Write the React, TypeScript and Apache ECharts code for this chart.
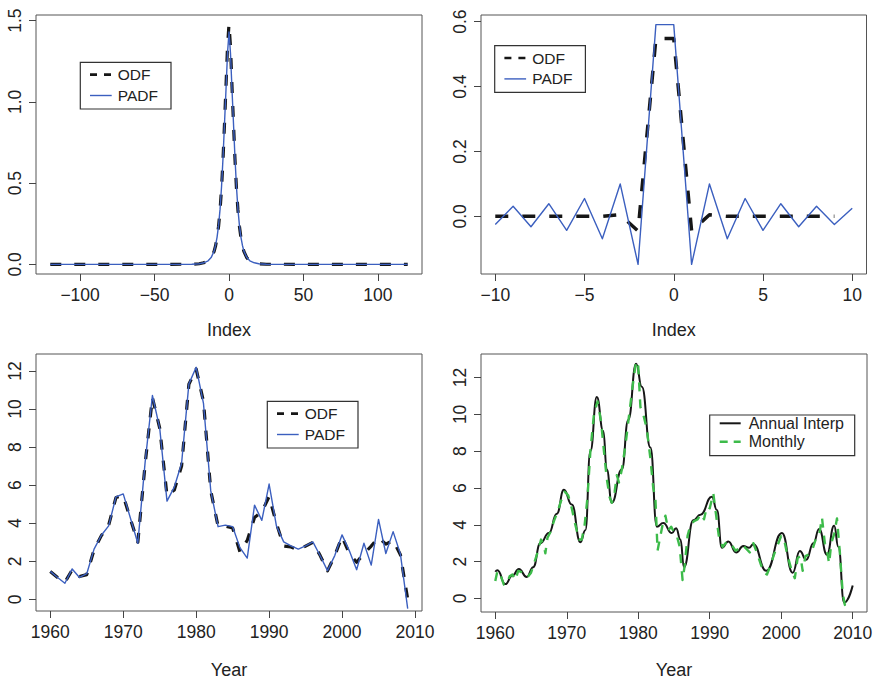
import React, { useEffect, useRef } from "react";
import * as echarts from "echarts";

const FONT = '"Liberation Sans", Arial, Helvetica, sans-serif';

// ---------- Panel 1 (top-left): ODF vs PADF, wide index ----------
const p1Index = [-120, -25, -20, -17, -14, -12, -10, -9, -8, -7, -6, -5, -4, -3, -2, -1, 0, 1, 2, 3, 4, 5, 6, 7, 8, 9, 10, 12, 14, 17, 20, 25, 120];
const p1Odf = [0, 0.001, 0.004, 0.01, 0.022, 0.04, 0.08, 0.115, 0.165, 0.235, 0.335, 0.47, 0.65, 0.87, 1.1, 1.34, 1.48, 1.34, 1.1, 0.87, 0.65, 0.47, 0.335, 0.235, 0.165, 0.115, 0.08, 0.04, 0.022, 0.01, 0.004, 0.001, 0];
const p1Padf = [0, 0.001, 0.004, 0.01, 0.022, 0.042, 0.082, 0.118, 0.168, 0.24, 0.34, 0.48, 0.66, 0.87, 1.08, 1.3, 1.43, 1.3, 1.08, 0.87, 0.66, 0.48, 0.34, 0.24, 0.168, 0.118, 0.082, 0.042, 0.022, 0.01, 0.004, 0.001, 0];
const p1XTicks = [-100, -50, 0, 50, 100];
const p1YTicks = [0, 0.5, 1, 1.5];

// ---------- Panel 2 (top-right): ODF vs PADF, -10..10 ----------
const p2PadfIndex = [-10, -9, -8, -7, -6, -5, -4, -3, -2, -1, 0, 1, 2, 3, 4, 5, 6, 7, 8, 9, 10];
const p2Padf = [-0.025, 0.031, -0.032, 0.039, -0.043, 0.055, -0.069, 0.1, -0.148, 0.591, 0.591, -0.148, 0.1, -0.069, 0.055, -0.043, 0.039, -0.032, 0.031, -0.025, 0.025];
const p2OdfIndex = [-10, -9, -8, -7, -6, -5, -4, -3, -2, -1, 0, 1, 2, 3, 4, 5, 6, 7, 8, 9];
const p2Odf = [0, 0, 0, 0, 0, 0, 0, 0.005, -0.045, 0.548, 0.548, -0.045, 0.005, 0, 0, 0, 0, 0, 0, 0];
const p2XTicks = [-10, -5, 0, 5, 10];
const p2YTicks = [0, 0.2, 0.4, 0.6];

// ---------- Panel 3 (bottom-left): annual ODF vs PADF ----------
const p3Years = [1960, 1961, 1962, 1963, 1964, 1965, 1966, 1967, 1968, 1969, 1970, 1971, 1972, 1973, 1974, 1975, 1976, 1977, 1978, 1979, 1980, 1981, 1982, 1983, 1984, 1985, 1986, 1987, 1988, 1989, 1990, 1991, 1992, 1993, 1994, 1995, 1996, 1997, 1998, 1999, 2000, 2001, 2002, 2003, 2004, 2005, 2006, 2007, 2008, 2009];
const p3Odf = [1.47, 1.15, 0.9, 1.55, 1.2, 1.3, 2.6, 3.35, 3.9, 5.35, 5.45, 4.2, 3.0, 7.1, 10.6, 9.0, 5.45, 5.75, 7.0, 11.3, 12.1, 10.4, 5.7, 3.85, 3.85, 3.75, 2.5, 3.1, 4.3, 4.6, 5.4, 4.0, 2.8, 2.75, 2.6, 2.8, 3.0, 2.3, 1.5, 2.3, 3.3, 2.4, 1.95, 2.4, 2.8, 3.25, 2.9, 3.1, 2.35, 0.0];
const p3Padf = [1.47, 1.15, 0.85, 1.6, 1.15, 1.35, 2.64, 3.37, 3.86, 5.38, 5.54, 4.25, 2.95, 7.2, 10.71, 9.0, 5.16, 5.9, 7.15, 11.32, 12.19, 10.3, 5.7, 3.82, 3.9, 3.82, 2.72, 2.17, 4.95, 4.15, 6.06, 3.86, 3.02, 2.81, 2.64, 2.81, 3.02, 2.29, 1.51, 2.3, 3.39, 2.55, 1.56, 2.95, 1.8, 4.2, 2.41, 3.56, 2.38, -0.49];
const yearTicks = [1960, 1970, 1980, 1990, 2000, 2010];
const p34YTicks = [0, 2, 4, 6, 8, 10, 12];

// ---------- Panel 4 (bottom-right): annual interpolation vs monthly ----------
const p4InterpTime = [1960.0, 1960.3, 1961.4, 1962.4, 1963.3, 1964.4, 1965.3, 1966.3, 1967.5, 1968.6, 1969.6, 1970.7, 1971.9, 1972.6, 1973.3, 1974.2, 1975.1, 1975.6, 1976.3, 1977.7, 1978.6, 1979.7, 1980.5, 1981.7, 1982.6, 1983.5, 1984.7, 1985.3, 1985.9, 1986.4, 1987.7, 1988.7, 1990.3, 1991.0, 1991.7, 1992.6, 1993.7, 1994.7, 1995.5, 1996.1, 1997.9, 2000.1, 2001.6, 2002.6, 2003.5, 2004.5, 2005.3, 2006.4, 2007.4, 2008.0, 2008.8, 2010.0];
const p4Interp = [1.45, 1.53, 0.78, 1.25, 1.6, 1.17, 1.7, 3.0, 3.55, 4.6, 5.9, 5.1, 3.05, 3.7, 8.0, 10.94, 9.1, 7.0, 5.2, 7.0, 9.7, 12.75, 11.5, 8.2, 3.9, 4.1, 3.55, 3.82, 3.2, 1.7, 4.25, 4.55, 5.53, 4.8, 2.75, 3.1, 2.5, 2.85, 2.75, 2.95, 1.5, 3.55, 1.4, 2.58, 2.1, 3.0, 3.77, 2.38, 3.95, 2.8, -0.23, 0.7];
const p4MonthlyTime = [1960.0, 1960.3, 1960.7, 1961.2, 1961.6, 1962.0, 1962.4, 1962.8, 1963.2, 1963.6, 1964.0, 1964.5, 1965.0, 1965.5, 1966.0, 1966.4, 1966.8, 1967.0, 1967.3, 1967.7, 1968.2, 1968.7, 1969.2, 1969.7, 1970.2, 1970.7, 1971.2, 1971.7, 1972.1, 1972.5, 1972.9, 1973.3, 1973.8, 1974.3, 1974.8, 1975.2, 1975.6, 1976.0, 1976.3, 1976.7, 1977.0, 1977.3, 1977.7, 1978.2, 1978.7, 1979.2, 1979.7, 1980.0, 1980.3, 1980.7, 1981.2, 1981.7, 1982.1, 1982.4, 1982.7, 1983.0, 1983.4, 1983.8, 1984.2, 1984.6, 1985.0, 1985.4, 1985.8, 1986.2, 1986.5, 1986.9, 1987.3, 1987.8, 1988.3, 1988.8, 1989.2, 1989.6, 1990.0, 1990.5, 1990.9, 1991.3, 1991.8, 1992.2, 1992.6, 1993.1, 1993.6, 1994.1, 1994.6, 1995.1, 1995.6, 1996.1, 1996.6, 1997.1, 1997.6, 1998.0, 1998.5, 1999.0, 1999.5, 2000.0, 2000.4, 2000.9, 2001.4, 2001.9, 2002.3, 2002.7, 2003.0, 2003.4, 2003.9, 2004.4, 2004.9, 2005.3, 2005.7, 2006.1, 2006.4, 2006.7, 2007.0, 2007.4, 2007.8, 2008.2, 2008.6, 2008.9, 2009.0];
const p4Monthly = [0.95, 1.5, 1.3, 0.75, 0.8, 1.2, 1.3, 1.0, 1.5, 1.45, 1.3, 1.15, 1.4, 2.0, 2.6, 3.2, 2.9, 2.45, 3.3, 3.6, 4.2, 4.7, 5.3, 5.8, 5.6, 4.9, 4.0, 3.2, 3.2, 4.0, 5.5, 8.0, 10.0, 10.7, 9.6, 8.0, 6.5, 5.5, 5.2, 5.8, 6.7, 6.3, 7.0, 8.3, 9.9, 11.5, 12.9, 12.6, 10.4, 10.0, 9.2, 7.6, 6.0, 5.4, 2.6, 3.2, 4.0, 4.5, 3.7, 3.9, 3.6, 3.4, 2.8, 1.0, 1.8, 3.4, 4.0, 4.2, 4.3, 4.6, 4.3, 5.0, 4.9, 5.7, 4.5, 3.3, 2.8, 3.0, 3.1, 2.9, 2.6, 2.7, 2.9, 2.7, 2.5, 3.0, 2.5, 1.9, 1.4, 1.3, 1.8, 2.4, 2.9, 3.4, 3.2, 2.3, 1.6, 1.1, 2.2, 2.3, 1.5, 2.3, 2.4, 2.7, 3.3, 3.4, 4.4, 3.0, 2.6, 1.9, 3.0, 3.5, 4.35, 2.5, 0.3, -0.35, -0.1];

// ---------- styles ----------
const TEXT = "#222";
const BOX = "#555";
const ODF_COLOR = "#161616";
const PADF_COLOR = "#3b5fbf";
const GREEN = "#3dbb4a";

const zip = (xs: number[], ys: number[]) => xs.map((x, i) => [x, ys[i]]);
const minus = (s: string) => s.replace("-", "\u2212");

function xAxis(gridIndex: number, min: number, max: number, ticks: number[], name: string, gap: number, fmt: (v: number) => string) {
  return {
    type: "value", gridIndex, min, max, name, nameLocation: "middle", nameGap: gap,
    nameTextStyle: { fontSize: 18, color: TEXT, fontFamily: FONT },
    axisLine: { show: false, onZero: false }, splitLine: { show: false },
    axisTick: { show: true, length: 7, inside: false, customValues: ticks, lineStyle: { color: "#444", width: 1 } },
    axisLabel: { customValues: ticks, formatter: fmt, fontSize: 17.5, color: TEXT, margin: 12, fontFamily: FONT },
  };
}
function yAxis(gridIndex: number, min: number, max: number, ticks: number[], fmt: (v: number) => string) {
  return {
    type: "value", gridIndex, min, max,
    axisLine: { show: false, onZero: false }, splitLine: { show: false },
    axisTick: { show: true, length: 7, inside: false, customValues: ticks, lineStyle: { color: "#444", width: 1 } },
    axisLabel: { customValues: ticks, formatter: fmt, fontSize: 17.5, color: TEXT, margin: 12, rotate: 90, fontFamily: FONT },
  };
}

function line(xi: number, data: number[][], color: string, width: number, dash: any, z: number, smooth: any = false) {
  return {
    type: "line", xAxisIndex: xi, yAxisIndex: xi, data, symbol: "none", showSymbol: false, smooth,
    smoothMonotone: smooth ? "x" : undefined,
    itemStyle: { color }, lineStyle: { color, width, type: dash, cap: "butt", join: "round" }, z, silent: true,
  };
}

type Item = { label: string; color: string; width: number; dash: any };
function legendBox(x: number, y: number, w: number, h: number, rows: number[], lx1: number, lx2: number, tx: number, fs: number, items: Item[]) {
  const els: any[] = [
    { type: "rect", shape: { x, y, width: w, height: h }, style: { fill: "#fff", stroke: "#333", lineWidth: 1.2 }, z: 100 },
  ];
  items.forEach((it, i) => {
    els.push({
      type: "line", shape: { x1: x + lx1, y1: y + rows[i], x2: x + lx2, y2: y + rows[i] },
      style: { stroke: it.color, lineWidth: it.width, lineDash: it.dash, lineCap: "butt" }, z: 101,
    });
    els.push({
      type: "text", x: x + tx, y: y + rows[i],
      style: { text: it.label, fill: TEXT, fontSize: fs, fontFamily: FONT, align: "left", verticalAlign: "middle", textAlign: "left", textVerticalAlign: "middle" },
      z: 101,
    });
  });
  return els;
}

const odfPadfItems: Item[] = [
  { label: "ODF", color: ODF_COLOR, width: 2.6, dash: [7, 7] },
  { label: "PADF", color: PADF_COLOR, width: 1.4, dash: null },
];
const p4Items: Item[] = [
  { label: "Annual Interp", color: ODF_COLOR, width: 2, dash: null },
  { label: "Monthly", color: GREEN, width: 2.4, dash: [8, 6] },
];

const option: any = {
  animation: false,
  textStyle: { fontFamily: FONT },
  grid: [
    { left: 36, top: 15, width: 386, height: 259, show: true, borderColor: BOX, borderWidth: 1, backgroundColor: "transparent" },
    { left: 481, top: 15, width: 385.5, height: 259, show: true, borderColor: BOX, borderWidth: 1, backgroundColor: "transparent" },
    { left: 36, top: 354, width: 386, height: 259, show: true, borderColor: BOX, borderWidth: 1, backgroundColor: "transparent" },
    { left: 481, top: 354, width: 386, height: 259, show: true, borderColor: BOX, borderWidth: 1, backgroundColor: "transparent" },
  ],
  xAxis: [
    xAxis(0, -129.6, 129.6, p1XTicks, "Index", 47, (v) => minus(String(v))),
    xAxis(1, -10.8, 10.8, p2XTicks, "Index", 47, (v) => minus(String(v))),
    xAxis(2, 1958.04, 2010.96, yearTicks, "Year", 50, (v) => String(v)),
    xAxis(3, 1958, 2012, yearTicks, "Year", 49, (v) => String(v)),
  ],
  yAxis: [
    yAxis(0, -0.059, 1.535, p1YTicks, (v) => v.toFixed(1)),
    yAxis(1, -0.1776, 0.6206, p2YTicks, (v) => v.toFixed(1)),
    yAxis(2, -0.61, 12.89, p34YTicks, (v) => String(v)),
    yAxis(3, -0.735, 13.28, p34YTicks, (v) => String(v)),
  ],
  series: [
    line(0, zip(p1Index, p1Odf), ODF_COLOR, 3.2, [11, 13], 2),
    line(0, zip(p1Index, p1Padf), PADF_COLOR, 1.4, "solid", 3),
    line(1, zip(p2OdfIndex, p2Odf), ODF_COLOR, 3.5, [13, 14], 2),
    line(1, zip(p2PadfIndex, p2Padf), PADF_COLOR, 1.4, "solid", 3),
    line(2, zip(p3Years, p3Odf), ODF_COLOR, 3.2, [10, 11], 2),
    line(2, zip(p3Years, p3Padf), PADF_COLOR, 1.4, "solid", 3),
    line(3, zip(p4InterpTime, p4Interp), ODF_COLOR, 2, "solid", 2, 0.5),
    line(3, zip(p4MonthlyTime, p4Monthly), GREEN, 2.4, [9, 8], 3),
  ],
  graphic: [
    ...legendBox(80.3, 62.3, 90.7, 46.7, [12.3, 33.2], 9.7, 31.4, 37.5, 15.5, odfPadfItems),
    ...legendBox(494.7, 45.7, 90.7, 46.7, [12.3, 33.2], 9.7, 31.4, 37.5, 15.5, odfPadfItems),
    ...legendBox(267.3, 401.3, 90.7, 46.7, [12.3, 33.2], 9.7, 31.4, 37.5, 15.5, odfPadfItems),
    ...legendBox(709.7, 415, 145, 40.7, [8.3, 26.7], 10, 31, 39, 16, p4Items),
  ],
};

export default function App() {
  const ref = useRef<HTMLDivElement>(null);
  useEffect(() => {
    if (!ref.current) return;
    const chart = echarts.init(ref.current, null, { renderer: "svg" });
    chart.setOption(option);
    return () => chart.dispose();
  }, []);
  return <div ref={ref} style={{ position: "absolute", left: 0, top: 0, width: 878, height: 680, background: "#fff" }} />;
}
